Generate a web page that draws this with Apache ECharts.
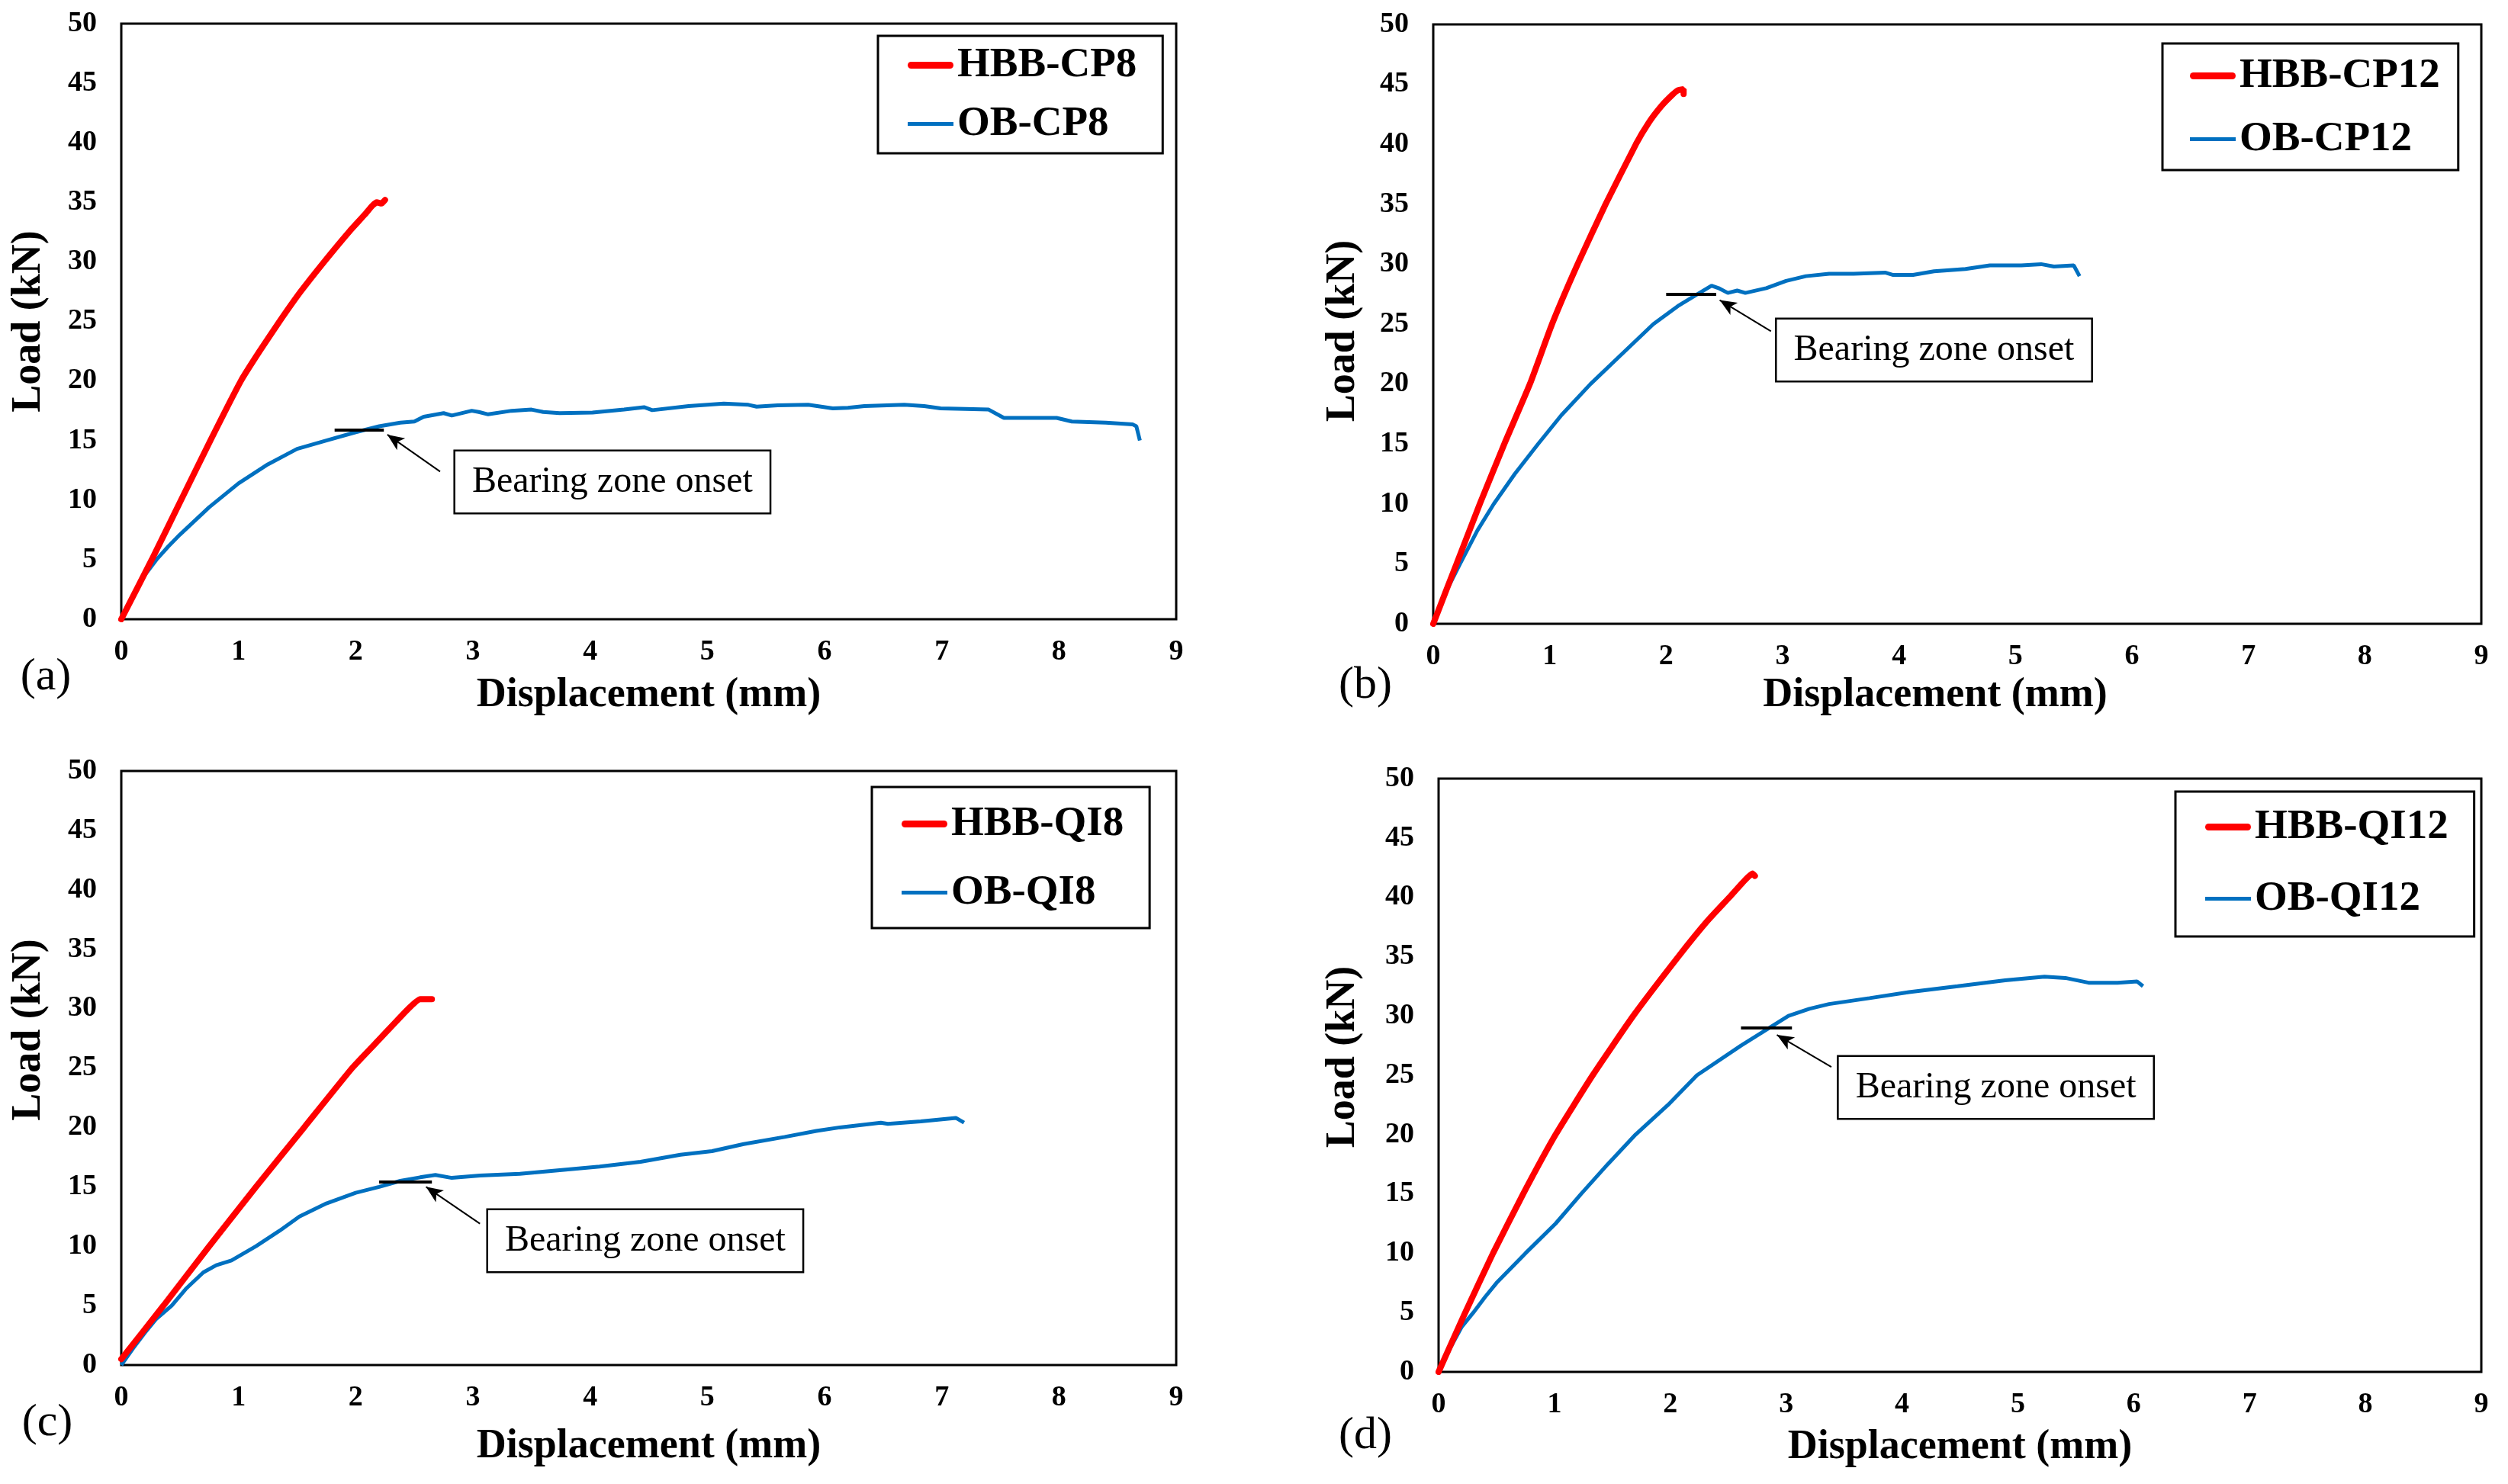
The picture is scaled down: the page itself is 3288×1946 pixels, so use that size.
<!DOCTYPE html>
<html>
<head>
<meta charset="utf-8">
<script src="https://cdn.jsdelivr.net/npm/echarts@6/dist/echarts.min.js"></script>
<style>
html,body{margin:0;padding:0;background:#fff;}
#chart{width:3288px;height:1946px;}
</style>
</head>
<body>
<div id="chart"></div>
<script>
// ---- tick values ----
const xTicks = [0,1,2,3,4,5,6,7,8,9];
const yTicks = [0,5,10,15,20,25,30,35,40,45,50];

// ---- series names ----
const namesA = ['HBB-CP8', 'OB-CP8'];
const namesB = ['HBB-CP12', 'OB-CP12'];
const namesC = ['HBB-QI8', 'OB-QI8'];
const namesD = ['HBB-QI12', 'OB-QI12'];

// ---- data [displacement mm, load kN] ----
const hbbCP8 = [[0,0],[0.26,5],[0.51,10],[0.76,15],[1.02,20],[1.18,22.5],[1.35,25],[1.53,27.5],[1.73,30],[1.95,32.6],[2.08,34.0],[2.14,34.7],[2.18,35.0],[2.22,34.9],[2.25,35.2]];
const obCP8 = [[0,0],[0.1,2.0],[0.2,3.7],[0.3,5.0],[0.4,6.1],[0.5,7.1],[0.75,9.4],[1.0,11.4],[1.25,13.0],[1.5,14.3],[1.75,15.0],[2.0,15.7],[2.2,16.2],[2.38,16.5],[2.5,16.6],[2.58,17.0],[2.75,17.3],[2.82,17.1],[2.99,17.5],[3.05,17.4],[3.13,17.2],[3.33,17.5],[3.5,17.6],[3.6,17.4],[3.74,17.3],[4.02,17.35],[4.29,17.6],[4.46,17.8],[4.53,17.55],[4.84,17.9],[5.14,18.1],[5.35,18.0],[5.42,17.85],[5.6,17.95],[5.86,18.0],[6.07,17.7],[6.2,17.75],[6.34,17.9],[6.68,18.0],[6.85,17.9],[6.99,17.7],[7.2,17.65],[7.4,17.6],[7.53,16.9],[7.75,16.9],[7.98,16.9],[8.11,16.6],[8.4,16.5],[8.63,16.35],[8.66,16.2],[8.69,15.0]];
const hbbCP12 = [[0,0],[0.2,5],[0.4,10],[0.61,15],[0.83,20],[1.02,25],[1.24,30],[1.48,35],[1.74,40],[1.85,41.8],[1.96,43.2],[2.05,44.1],[2.1,44.5],[2.15,44.6],[2.15,44.2]];
const obCP12 = [[0,0],[0.1,2.5],[0.23,5],[0.38,7.8],[0.52,10],[0.7,12.5],[0.9,15],[1.1,17.4],[1.35,20],[1.62,22.5],[1.89,25],[2.1,26.5],[2.27,27.5],[2.39,28.2],[2.45,28.0],[2.53,27.6],[2.61,27.8],[2.68,27.6],[2.86,28.0],[3.03,28.6],[3.2,29.0],[3.4,29.2],[3.61,29.2],[3.88,29.3],[3.95,29.1],[4.12,29.1],[4.3,29.4],[4.57,29.6],[4.78,29.9],[5.05,29.9],[5.22,30.0],[5.33,29.8],[5.5,29.9],[5.55,29.0]];
const hbbQI8 = [[0,0.5],[0.36,5],[0.75,10],[1.15,15],[1.56,20],[1.97,25],[2.21,27.5],[2.45,30],[2.55,30.8],[2.65,30.8]];
const obQI8 = [[0,0],[0.1,1.4],[0.2,2.7],[0.3,3.9],[0.43,5],[0.55,6.4],[0.7,7.8],[0.81,8.4],[0.94,8.8],[1.15,10],[1.35,11.3],[1.52,12.5],[1.75,13.6],[2.0,14.5],[2.2,15.0],[2.38,15.5],[2.55,15.8],[2.68,16.0],[2.82,15.75],[3.06,15.95],[3.4,16.1],[3.74,16.4],[4.08,16.7],[4.43,17.1],[4.77,17.7],[5.04,18.0],[5.31,18.6],[5.66,19.2],[5.93,19.7],[6.13,20.0],[6.48,20.4],[6.54,20.3],[6.82,20.5],[7.12,20.8],[7.19,20.4]];
const hbbQI12 = [[0,0],[0.23,5],[0.47,10],[0.73,15],[1.01,20],[1.33,25],[1.68,30],[2.07,35],[2.32,38],[2.51,40],[2.65,41.5],[2.71,42.0],[2.73,41.8]];
const obQI12 = [[0,0],[0.1,2.0],[0.2,3.8],[0.3,5],[0.4,6.3],[0.5,7.5],[0.75,10],[1.01,12.5],[1.23,15],[1.46,17.5],[1.7,20],[1.98,22.5],[2.23,25],[2.61,27.5],[3.02,30],[3.2,30.6],[3.37,31],[3.72,31.5],[4.06,32],[4.48,32.5],[4.89,33],[5.23,33.3],[5.41,33.2],[5.61,32.8],[5.86,32.8],[6.03,32.9],[6.08,32.5]];

// ---- annotation anchors (data coords) ----
const onsetA = [[1.82,15.9],[2.24,15.9]], arrowA = [[2.72,12.4],[2.27,15.5]], boxA = [4.19,11.52];
const onsetB = [[2.0,27.5],[2.43,27.5]], arrowB = [[2.9,24.4],[2.46,27.0]], boxB = [4.30,22.84];
const onsetC = [[2.2,15.4],[2.65,15.4]], arrowC = [[3.06,11.9],[2.6,15.0]], boxC = [4.47,10.46];
const onsetD = [[2.61,29.0],[3.05,29.0]], arrowD = [[3.39,25.7],[2.92,28.4]], boxD = [4.81,23.97];
const annText = 'Bearing zone onset';
const tags = ['(a)','(b)','(c)','(d)'];

const FONT = "'Liberation Serif', 'Times New Roman', serif";
const RED = '#FF0000', BLUE = '#0070C0';
const ICON_RED = 'path://M4.5,0H55.5A4.5,4.5,0,0,1,55.5,9H4.5A4.5,4.5,0,0,1,4.5,0Z';
const ICON_BLUE = 'path://M0,0H60V5H0Z';

const panels = [
  {grid:{left:159,top:31,width:1383,height:781}, names:namesA, hbb:hbbCP8, ob:obCP8, onset:onsetA, arrow:arrowA, box:boxA,
   legend:{left:1151,top:47,padding:[11,34,11,39],itemGap:22}, xGap:73, xPad:[0,0,0,0], yGap:94, yPad:[0,0,0,0], tagPos:[60,888]},
  {grid:{left:1879,top:32,width:1374,height:786}, names:namesB, hbb:hbbCP12, ob:obCP12, onset:onsetB, arrow:arrowB, box:boxB,
   legend:{left:2835,top:57,padding:[15,24,13,36],itemGap:28}, xGap:67, xPad:[0,58,0,0], yGap:91, yPad:[0,18,0,0], tagPos:[1790,899]},
  {grid:{left:159,top:1011,width:1383,height:779}, names:namesC, hbb:hbbQI8, ob:obQI8, onset:onsetC, arrow:arrowC, box:boxC,
   legend:{left:1143,top:1032,padding:[21,34,19,39],itemGap:35}, xGap:80, xPad:[0,0,0,0], yGap:94, yPad:[0,0,0,100], tagPos:[62,1866]},
  {grid:{left:1886,top:1021,width:1367,height:778}, names:namesD, hbb:hbbQI12, ob:obQI12, onset:onsetD, arrow:arrowD, box:boxD,
   legend:{left:2852,top:1038,padding:[19,34,22,39],itemGap:39}, xGap:72, xPad:[0,0,0,0], yGap:98, yPad:[0,0,0,48], tagPos:[1790,1883]}
];

const option = {animation:false, backgroundColor:'#fff', grid:[], xAxis:[], yAxis:[], legend:[], series:[], graphic:[]};

panels.forEach((p, i) => {
  option.grid.push(Object.assign({show:true, borderColor:'#000', borderWidth:3, backgroundColor:'transparent'}, p.grid));
  option.xAxis.push({
    type:'value', gridIndex:i, min:xTicks[0], max:xTicks[xTicks.length-1], interval:1,
    name:'Displacement (mm)', nameLocation:'middle', nameGap:p.xGap,
    nameTextStyle:{fontFamily:FONT, fontWeight:'bold', fontSize:54, color:'#000', padding:p.xPad},
    axisLine:{show:false}, axisTick:{show:false}, splitLine:{show:false},
    axisLabel:{fontFamily:FONT, fontWeight:'bold', fontSize:38, color:'#000', margin:24}
  });
  option.yAxis.push({
    type:'value', gridIndex:i, min:yTicks[0], max:yTicks[yTicks.length-1], interval:5,
    name:'Load (kN)', nameLocation:'middle', nameGap:p.yGap, nameRotate:90,
    nameTextStyle:{fontFamily:FONT, fontWeight:'bold', fontSize:54, color:'#000', padding:p.yPad},
    axisLine:{show:false}, axisTick:{show:false}, splitLine:{show:false},
    axisLabel:{fontFamily:FONT, fontWeight:'bold', fontSize:38, color:'#000', margin:32}
  });
  option.legend.push(Object.assign({
    orient:'vertical',
    data:[{name:p.names[0], icon:ICON_RED, itemStyle:{color:RED}}, {name:p.names[1], icon:ICON_BLUE, itemStyle:{color:BLUE}}],
    itemWidth:60, itemHeight:14, selectedMode:false,
    borderColor:'#000', borderWidth:3, backgroundColor:'#fff',
    textStyle:{fontFamily:FONT, fontWeight:'bold', fontSize:55, color:'#000', lineHeight:55}
  }, p.legend));
  option.series.push({
    type:'line', name:p.names[0], xAxisIndex:i, yAxisIndex:i, data:p.hbb, smooth:0.15,
    symbol:'none', showSymbol:false, lineStyle:{color:RED, width:8, cap:'round'}, itemStyle:{color:RED}, z:3, silent:true
  });
  option.series.push({
    type:'line', name:p.names[1], xAxisIndex:i, yAxisIndex:i, data:p.ob,
    symbol:'none', showSymbol:false, lineStyle:{color:BLUE, width:5}, itemStyle:{color:BLUE}, z:2, silent:true,
    markLine:{
      silent:true, symbol:'none', label:{show:false}, emphasis:{disabled:true},
      data:[
        [{coord:p.onset[0], lineStyle:{color:'#000', width:4, type:'solid'}}, {coord:p.onset[1]}],
        [{coord:p.arrow[0], symbol:'none', lineStyle:{color:'#000', width:2, type:'solid'}},
         {coord:p.arrow[1], symbol:'arrow', symbolSize:[14,22]}]
      ]
    },
    markPoint:{
      silent:true, symbol:'rect', symbolSize:1, itemStyle:{color:'rgba(0,0,0,0)'},
      data:[{coord:p.box, value:annText}],
      label:{show:true, position:'inside', formatter:annText, fontFamily:FONT, fontSize:48, color:'#000',
        backgroundColor:'#fff', borderColor:'#000', borderWidth:2.5, padding:[16,22,14,22], lineHeight:50}
    }
  });
  option.graphic.push({
    type:'text', x:p.tagPos[0], y:p.tagPos[1], silent:true,
    style:{text:tags[i], align:'center', verticalAlign:'middle', font:"60px 'Liberation Serif'", fill:'#000'}
  });
});

const chart = echarts.init(document.getElementById('chart'), null, {renderer:'canvas'});
chart.setOption(option);
</script>
</body>
</html>
